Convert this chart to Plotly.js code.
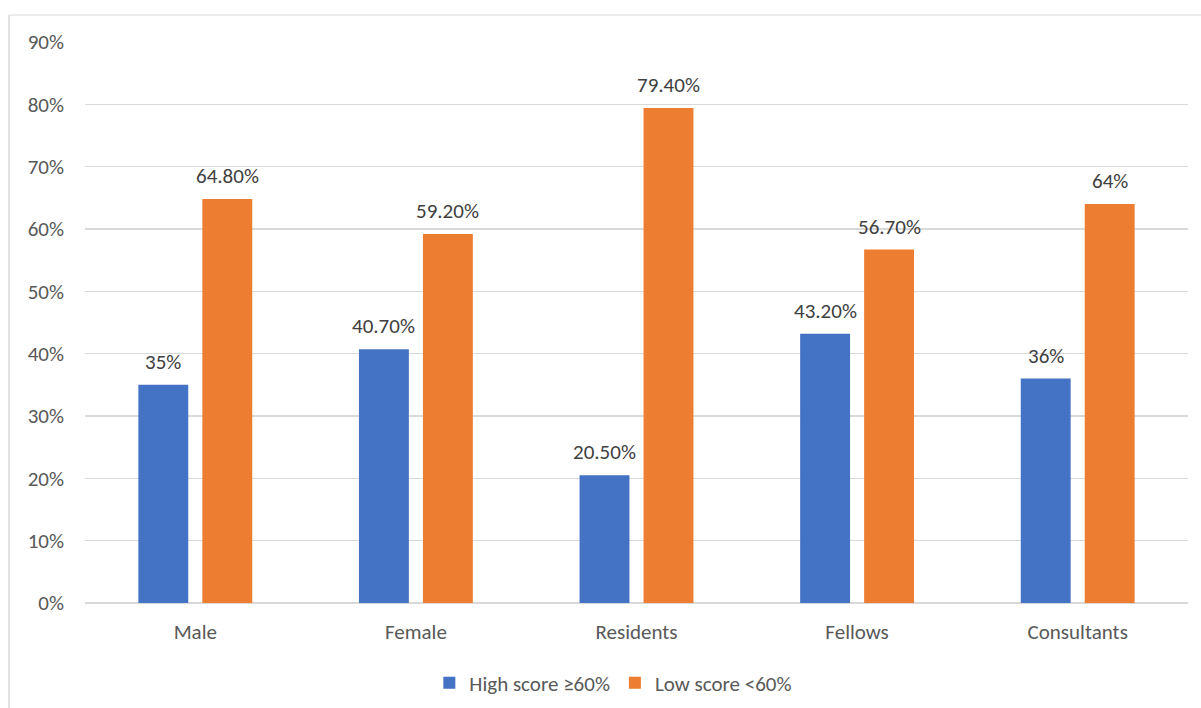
<!DOCTYPE html>
<html>
<head>
<meta charset="utf-8">
<script src="https://cdn.plot.ly/plotly-3.0.1.min.js"></script>
<style>
  html, body { margin: 0; padding: 0; background: #fff; }
  #chart { width: 1201px; height: 708px; }
</style>
</head>
<body>
<div id="chart"></div>
<script>
const categories = ["Male", "Female", "Residents", "Fellows", "Consultants"];
const highScore = [35, 40.7, 20.5, 43.2, 36];
const lowScore = [64.8, 59.2, 79.4, 56.7, 64];
const highLabels = ["35%", "40.70%", "20.50%", "43.20%", "36%"];
const lowLabels = ["64.80%", "59.20%", "79.40%", "56.70%", "64%"];
const seriesNames = ["High score \u226560%", "Low score <60%"];

const fontFamily = "Carlito, Lato, 'Open Sans', sans-serif";
const textColor = "#595959";
const fs = 21;

const traces = [
  {
    type: "bar", name: seriesNames[0], x: categories, y: highScore,
    marker: { color: "#4472C4" }, hoverinfo: "skip"
  },
  {
    type: "bar", name: seriesNames[1], x: categories, y: lowScore,
    marker: { color: "#ED7D31" }, hoverinfo: "skip"
  }
];

const annotations = [];
categories.forEach((c, i) => {
  annotations.push({
    x: c, y: highScore[i], xref: "x", yref: "y", text: highLabels[i],
    showarrow: false, xshift: -32, yshift: 23, yanchor: "middle",
    font: { family: fontFamily, size: fs, color: "#404040" }
  });
  annotations.push({
    x: c, y: lowScore[i], xref: "x", yref: "y", text: lowLabels[i],
    showarrow: false, xshift: 32, yshift: 23, yanchor: "middle",
    font: { family: fontFamily, size: fs, color: "#404040" }
  });
});

const layout = {
  width: 1201, height: 708,
  margin: { l: 85, r: 13, t: 42, b: 105, autoexpand: false },
  paper_bgcolor: "#fff", plot_bgcolor: "#fff",
  font: { family: fontFamily, color: textColor, size: fs },
  barmode: "group", bargap: 0.42, bargroupgap: 0.22,
  showlegend: true,
  legend: {
    orientation: "h", x: 0.479, xanchor: "center", y: -0.143, yanchor: "middle",
    font: { family: fontFamily, size: fs, color: textColor },
    itemwidth: 30, traceorder: "normal"
  },
  xaxis: {
    type: "category", showgrid: false, zeroline: false, showline: false,
    ticks: "", ticklabelstandoff: 14,
    tickfont: { family: fontFamily, size: fs, color: textColor }
  },
  yaxis: {
    range: [0, 90], dtick: 10, ticksuffix: "%",
    showgrid: true, gridcolor: "#d9d9d9", gridwidth: 1.5,
    zeroline: true, zerolinecolor: "#d9d9d9", zerolinewidth: 1.5,
    showline: false, ticks: "", ticklabelstandoff: 20,
    tickfont: { family: fontFamily, size: fs, color: textColor }
  },
  annotations: annotations,
  shapes: [
    { type: "line", xref: "paper", yref: "paper", x0: -0.0689, x1: -0.0689, y0: 1.048, y1: -0.2,
      line: { color: "#d9d9d9", width: 1.5 } },
    { type: "line", xref: "paper", yref: "paper", x0: -0.0689, x1: 1.02, y0: 1.048, y1: 1.048,
      line: { color: "#e6e6e6", width: 1.5 } }
  ]
};

Plotly.newPlot("chart", traces, layout, { staticPlot: true, displayModeBar: false });
</script>
</body>
</html>
